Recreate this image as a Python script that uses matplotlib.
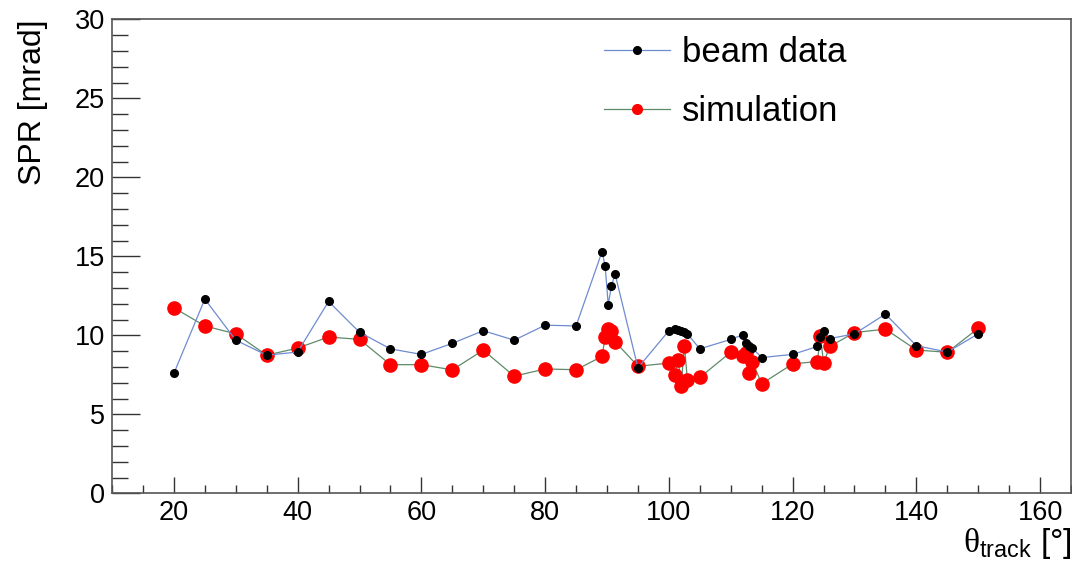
import numpy as np
import matplotlib
matplotlib.use("Agg")
import matplotlib.pyplot as plt
from matplotlib.ticker import MultipleLocator

plt.rcParams['font.family'] = ['Liberation Sans', 'DejaVu Sans']
plt.rcParams['mathtext.fontset'] = 'custom'
plt.rcParams['mathtext.rm'] = 'Liberation Serif'
plt.rcParams['mathtext.sf'] = 'Liberation Sans'

# track angle [deg], shared by both series
theta = [20, 25, 30, 35, 40, 45, 50, 55, 60, 65, 70, 75, 80, 85,
         89.2, 89.7, 90.2, 90.7, 91.3, 95,
         100, 101, 101.5, 102, 102.5, 103, 105, 110,
         112, 112.5, 113, 113.5, 115, 120,
         124, 124.5, 125, 126, 130, 135, 140, 145, 150]

# single photon resolution [mrad]
spr_beam = [7.6, 12.3, 9.7, 8.75, 8.95, 12.15, 10.2, 9.15, 8.8, 9.5, 10.3, 9.7, 10.65, 10.6,
            15.3, 14.4, 11.95, 13.1, 13.9, 7.95,
            10.3, 10.4, 10.35, 10.3, 10.2, 10.1, 9.15, 9.75,
            10.05, 9.5, 9.35, 9.2, 8.6, 8.8,
            9.3, 9.9, 10.3, 9.8, 10.1, 11.35, 9.35, 8.95, 10.1]
spr_sim = [11.75, 10.6, 10.1, 8.75, 9.2, 9.9, 9.75, 8.15, 8.15, 7.82, 9.07, 7.42, 7.88, 7.83,
           8.67, 9.89, 10.4, 10.25, 9.61, 8.05,
           8.25, 7.51, 8.46, 6.81, 9.36, 7.19, 7.34, 8.94,
           8.67, 8.88, 7.61, 8.35, 6.94, 8.2,
           8.35, 9.97, 8.25, 9.3, 10.18, 10.4, 9.08, 8.93, 10.45]

fig = plt.figure(figsize=(10.72, 5.63), dpi=100)
ax = fig.add_axes([0.1045, 0.1235, 0.8946, 0.8421])

ax.plot(theta, spr_beam, color='#6f8bd0', lw=0.9, marker='o', ms=5.5,
        mfc='black', mec='black', label='beam data', zorder=3)
ax.plot(theta, spr_sim, color='#5f8a6a', lw=0.9, marker='o', ms=9.5,
        mfc='red', mec='red', label='simulation', zorder=2)

ax.set_xlim(10, 165)
ax.set_ylim(0, 30)
ax.xaxis.set_major_locator(MultipleLocator(20))
ax.xaxis.set_minor_locator(MultipleLocator(5))
ax.yaxis.set_major_locator(MultipleLocator(5))
ax.yaxis.set_minor_locator(MultipleLocator(1))
ax.tick_params(which='both', direction='in', top=False, right=False,
               color='#333333', labelsize=19.5)
ax.tick_params(axis='y', which='major', length=20, width=1, pad=5)
ax.tick_params(axis='y', which='minor', length=11.5, width=1)
ax.tick_params(axis='x', which='major', length=11.3, width=1, pad=5)
ax.tick_params(axis='x', which='minor', length=6, width=1)
for s in ax.spines.values():
    s.set_color('#555555')
    s.set_linewidth(1.2)

ax.set_ylabel('SPR [mrad]', fontsize=23, loc='top')
ax.yaxis.set_label_coords(-0.067, 1.0)
ax.set_xlabel(r'$\mathrm{\theta}_{\mathsf{track}}$ [°]', fontsize=24, loc='right')
ax.xaxis.set_label_coords(1.001, -0.068)

leg = ax.legend(loc='upper left', bbox_to_anchor=(0.5345, 0.992), bbox_transform=fig.transFigure,
                frameon=False, fontsize=25, handlelength=1.9, handletextpad=0.35,
                labelspacing=0.75)
leg.legend_handles[0].set_markersize(5.5)
leg.legend_handles[1].set_markersize(7)

fig.savefig('out.png', dpi=100)
